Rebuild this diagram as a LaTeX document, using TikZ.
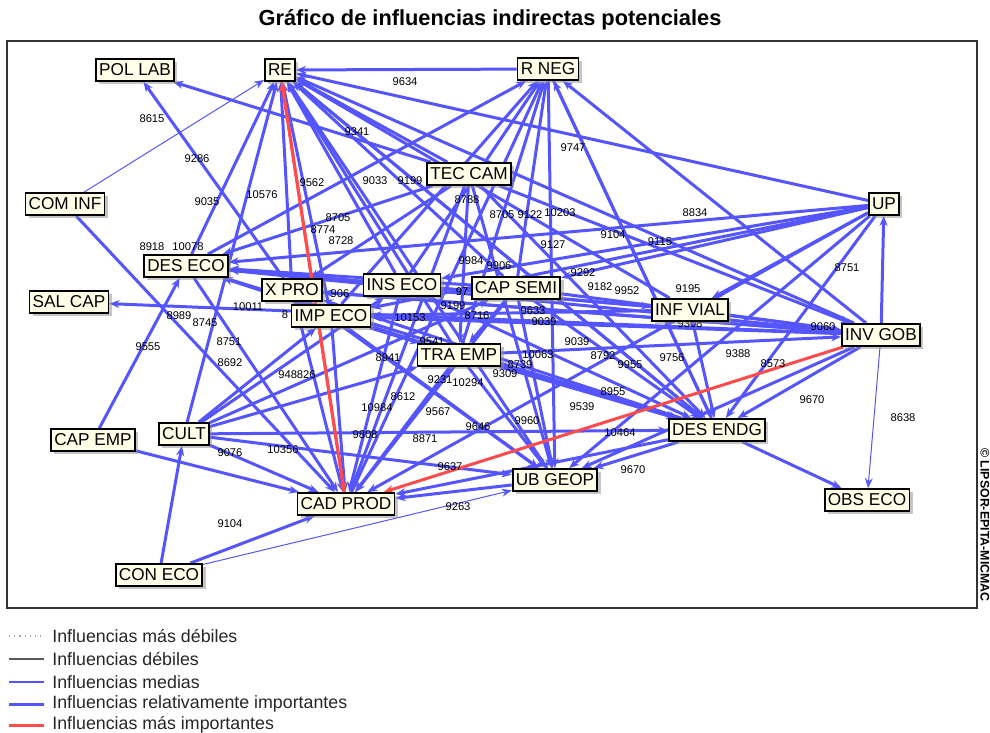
\documentclass[tikz,border=0pt]{standalone}
\usepackage{fontspec}
\setmainfont{Liberation Sans}
\usetikzlibrary{arrows.meta,shadows,backgrounds}

\definecolor{infblue}{RGB}{85,85,255}
\definecolor{infred}{RGB}{255,75,75}
\definecolor{boxfill}{RGB}{255,255,232}

\tikzset{
  var/.style={draw=black, line width=0.9pt, fill=boxfill, inner sep=1.6pt, minimum height=11pt,
    font=\fontsize{8.6}{9}\selectfont,
    drop shadow={shadow xshift=1.6pt, shadow yshift=-1.6pt, fill=black!45}},
  rel/.style={infblue, line width=1.5pt, -{Stealth[length=5pt,width=4pt]}},
  med/.style={infblue, line width=0.5pt, -{Stealth[length=5pt,width=4pt]}},
  strong/.style={infred, line width=1.5pt, -{Stealth[length=5pt,width=4pt]}},
  num/.style={font=\fontsize{5.6}{6}\selectfont, inner sep=0pt},
  legtext/.style={anchor=west, inner sep=0pt, font=\fontsize{8.9}{10}\selectfont, text=black!85},
}

\begin{document}
\begin{tikzpicture}[x=0.5pt, y=-0.5pt]

\useasboundingbox (0,0) rectangle (990,733);

\node[font=\bfseries\fontsize{10.9}{12}\selectfont] (title) at (490,20) {Gráfico de influencias indirectas potenciales};
\draw[black!80, line width=0.8pt] (7,41) rectangle (977,608);
\node[rotate=-90, font=\bfseries\fontsize{6.2}{7}\selectfont, inner sep=0pt] (copy) at (985,525) {© LIPSOR-EPITA-MICMAC};

\node[var] (pollab) at (135,70) {POL LAB};
\node[var] (re) at (280,70) {RE};
\node[var] (rneg) at (548,69) {R NEG};
\node[var] (cominf) at (65,204) {COM INF};
\node[var] (teccam) at (469,174) {TEC CAM};
\node[var] (up) at (884,204) {UP};
\node[var] (deseco) at (186,266) {DES ECO};
\node[var] (xpro) at (292,290) {X PRO};
\node[var] (inseco) at (402,285) {INS ECO};
\node[var] (capsemi) at (516,288) {CAP SEMI};
\node[var] (salcap) at (69,302) {SAL CAP};
\node[var] (impeco) at (331,316) {IMP ECO};
\node[var] (infvial) at (690,310) {INF VIAL};
\node[var] (invgob) at (881,335) {INV GOB};
\node[var] (traemp) at (459,355) {TRA EMP};
\node[var] (capemp) at (93,440) {CAP EMP};
\node[var] (cult) at (184,434) {CULT};
\node[var] (desendg) at (717,430) {DES ENDG};
\node[var] (ubgeop) at (555,480) {UB GEOP};
\node[var] (cadprod) at (346,504) {CAD PROD};
\node[var] (obseco) at (867,500) {OBS ECO};
\node[var] (coneco) at (159,575) {CON ECO};

\begin{scope}[on background layer]

\draw[rel] (rneg) -- (re);
\draw[rel] (up) -- (re);
\draw[rel] (teccam) -- (re);
\draw[rel] (inseco) -- (re);
\draw[rel] (capsemi) -- (re);
\draw[rel] (infvial) -- (re);
\draw[rel] (invgob) -- (re);
\draw[rel] (desendg) -- (re);
\draw[rel] (traemp) -- (re);
\draw[rel] (ubgeop) -- (re);
\draw[rel] (deseco) -- (re);
\draw[rel] (cult) -- (re);
\draw[rel] (impeco) -- (re);
\draw[rel] (xpro) -- (re);
\draw[med] (cominf) -- (re);

\draw[rel] (xpro) -- (pollab);
\draw[rel] (teccam) -- (pollab);

\draw[rel] (deseco) -- (rneg);
\draw[rel] (impeco) -- (rneg);
\draw[rel] (traemp) -- (rneg);
\draw[rel] (capsemi) -- (rneg);
\draw[rel] (invgob) -- (rneg);
\draw[rel] (desendg) -- (rneg);
\draw[rel] (cadprod) -- (rneg);
\draw[rel] (inseco) -- (rneg);

\draw[rel] (invgob) -- (up);

\draw[rel] (teccam) -- (deseco);
\draw[rel] (inseco) -- (deseco);
\draw[rel] (capsemi) -- (deseco);
\draw[rel] (infvial) -- (deseco);
\draw[rel] (traemp) -- (deseco);
\draw[rel] (up) -- (deseco);
\draw[rel] (capemp) -- (deseco);

\draw[rel] (invgob) -- (salcap);

\draw[rel] (teccam) -- (xpro);
\draw[rel] (invgob) -- (xpro);
\draw[rel] (desendg) -- (xpro);

\draw[rel] (cult) -- (inseco);
\draw[rel] (up) -- (inseco);

\draw[rel] (infvial) -- (impeco);
\draw[rel] (cult) -- (impeco);
\draw[rel] (invgob) -- (impeco);
\draw[rel] (up) -- (impeco);

\draw[rel] (up) -- (capsemi);
\draw[rel] (cult) -- (capsemi);

\draw[rel] (up) -- (infvial);
\draw[rel] (deseco) -- (infvial);

\draw[rel] (deseco) -- (invgob);
\draw[rel] (capsemi) -- (invgob);
\draw[rel] (xpro) -- (invgob);
\draw[rel] (teccam) -- (invgob);
\draw[rel] (traemp) -- (invgob);
\draw[rel] (infvial) -- (invgob);

\draw[rel] (teccam) -- (traemp);
\draw[rel] (capsemi) -- (traemp);
\draw[rel] (impeco) -- (traemp);
\draw[rel] (cult) -- (traemp);

\draw[rel] (up) -- (desendg);
\draw[rel] (invgob) -- (desendg);
\draw[rel] (infvial) -- (desendg);
\draw[rel] (rneg) -- (desendg);
\draw[rel] (teccam) -- (desendg);
\draw[rel] (capsemi) -- (desendg);
\draw[rel] (traemp) -- (desendg);
\draw[rel] (impeco) -- (desendg);
\draw[rel] (deseco) -- (desendg);
\draw[rel] (cult) -- (desendg);
\draw[rel] (inseco) -- (desendg);
\draw[rel] (re) -- (desendg);

\draw[rel] (rneg) -- (ubgeop);
\draw[rel] (teccam) -- (ubgeop);
\draw[rel] (traemp) -- (ubgeop);
\draw[rel] (impeco) -- (ubgeop);
\draw[rel] (cult) -- (ubgeop);
\draw[rel] (desendg) -- (ubgeop);
\draw[rel] (invgob) -- (ubgeop);
\draw[rel] (up) -- (ubgeop);
\draw[rel] (capsemi) -- (ubgeop);
\draw[rel] (xpro) -- (ubgeop);
\draw[med] (coneco) -- (ubgeop);

\draw[rel] (ubgeop) -- (cadprod);
\draw[rel] (cult) -- (cadprod);
\draw[rel] (capemp) -- (cadprod);
\draw[rel] (coneco) -- (cadprod);
\draw[rel] (deseco) -- (cadprod);
\draw[rel] (xpro) -- (cadprod);
\draw[rel] (inseco) -- (cadprod);
\draw[rel] (traemp) -- (cadprod);
\draw[rel] (capsemi) -- (cadprod);
\draw[rel] (teccam) -- (cadprod);
\draw[rel] (cominf) -- (cadprod);
\draw[rel] (desendg) -- (cadprod);
\draw[rel] (up) -- (cadprod);
\draw[rel] (impeco) -- (cadprod);

\draw[rel] (coneco) -- (cult);
\draw[rel] (desendg) -- (obseco);
\draw[med] (invgob) -- (obseco);

\draw[strong] (re) -- (cadprod);
\draw[strong] (cadprod) -- (re);
\draw[strong] (invgob) -- (cadprod);

\node[num] (w1) at (405,82) {9634};
\node[num] (w2) at (152,119) {8615};
\node[num] (w3) at (197,159) {9286};
\node[num] (w4) at (357,132) {9341};
\node[num] (w5) at (573,148) {9747};
\node[num] (w6) at (312,183) {9562};
\node[num] (w7) at (375,181) {9033};
\node[num] (w8) at (410,181) {9199};
\node[num] (w9) at (262,195) {10576};
\node[num] (w10) at (207,202) {9035};
\node[num] (w11) at (467,200) {8788};
\node[num] (w12) at (338,218) {8705};
\node[num] (w13) at (502,215) {8705};
\node[num] (w14) at (530,215) {9122};
\node[num] (w15) at (560,213) {10203};
\node[num] (w16) at (695,213) {8834};
\node[num] (w17) at (323,230) {8774};
\node[num] (w18) at (341,241) {8728};
\node[num] (w19) at (613,235) {9104};
\node[num] (w20) at (660,242) {9115};
\node[num] (w21) at (553,245) {9127};
\node[num] (w22) at (152,247) {8918};
\node[num] (w23) at (188,247) {10078};
\node[num] (w24) at (471,261) {9984};
\node[num] (w25) at (499,266) {9906};
\node[num] (w26) at (847,268) {8751};
\node[num] (w27) at (583,273) {9292};
\node[num] (w28) at (688,289) {9195};
\node[num] (w29) at (600,287) {9182};
\node[num] (w30) at (627,291) {9952};
\node[num] (w31) at (340,294) {906};
\node[num] (w32) at (462,292) {97};
\node[num] (w33) at (248,307) {10011};
\node[num] (w34) at (285,315) {8};
\node[num] (w35) at (410,318) {10153};
\node[num] (w36) at (453,306) {9199};
\node[num] (w37) at (477,316) {8716};
\node[num] (w38) at (533,311) {9633};
\node[num] (w39) at (544,322) {9039};
\node[num] (w40) at (179,316) {8989};
\node[num] (w41) at (205,323) {8745};
\node[num] (w42) at (148,347) {9555};
\node[num] (w43) at (229,342) {8751};
\node[num] (w44) at (230,363) {8692};
\node[num] (w45) at (297,375) {948826};
\node[num] (w46) at (690,324) {9308};
\node[num] (w47) at (823,327) {9060};
\node[num] (w48) at (577,342) {9039};
\node[num] (w49) at (603,356) {8792};
\node[num] (w50) at (630,365) {9955};
\node[num] (w51) at (672,358) {9756};
\node[num] (w52) at (738,354) {9388};
\node[num] (w53) at (773,364) {8573};
\node[num] (w54) at (388,358) {8941};
\node[num] (w55) at (432,342) {9541};
\node[num] (w56) at (538,355) {10063};
\node[num] (w57) at (520,365) {8739};
\node[num] (w58) at (505,374) {9309};
\node[num] (w59) at (440,380) {9231};
\node[num] (w60) at (468,383) {10294};
\node[num] (w61) at (403,397) {8612};
\node[num] (w62) at (377,408) {10984};
\node[num] (w63) at (438,412) {9567};
\node[num] (w64) at (613,392) {8955};
\node[num] (w65) at (582,407) {9539};
\node[num] (w66) at (527,421) {9960};
\node[num] (w67) at (478,427) {9646};
\node[num] (w68) at (365,435) {9808};
\node[num] (w69) at (425,439) {8871};
\node[num] (w70) at (620,433) {10464};
\node[num] (w71) at (450,467) {9637};
\node[num] (w72) at (633,470) {9670};
\node[num] (w73) at (812,400) {9670};
\node[num] (w74) at (903,418) {8638};
\node[num] (w75) at (458,507) {9263};
\node[num] (w76) at (230,453) {9076};
\node[num] (w77) at (283,450) {10356};
\node[num] (w78) at (230,524) {9104};

\end{scope}

\node[legtext] (leg1) at (52,636) {Influencias más débiles};
\node[legtext] (leg2) at (52,659) {Influencias débiles};
\node[legtext] (leg3) at (52,682) {Influencias medias};
\node[legtext] (leg4) at (52,704) {Influencias relativamente importantes};
\node[legtext] (leg5) at (52,725) {Influencias más importantes};
\draw[black!35, dotted, line width=0.6pt] (leg1.west) ++(-43,0) -- ++(35,0);
\draw[black!65, line width=0.6pt] (leg2.west) ++(-43,0) -- ++(35,0);
\draw[infblue, line width=0.6pt] (leg3.west) ++(-43,0) -- ++(35,0);
\draw[infblue, line width=1.5pt] (leg4.west) ++(-43,0) -- ++(35,0);
\draw[infred, line width=1.5pt] (leg5.west) ++(-43,0) -- ++(35,0);

\end{tikzpicture}
\end{document}
